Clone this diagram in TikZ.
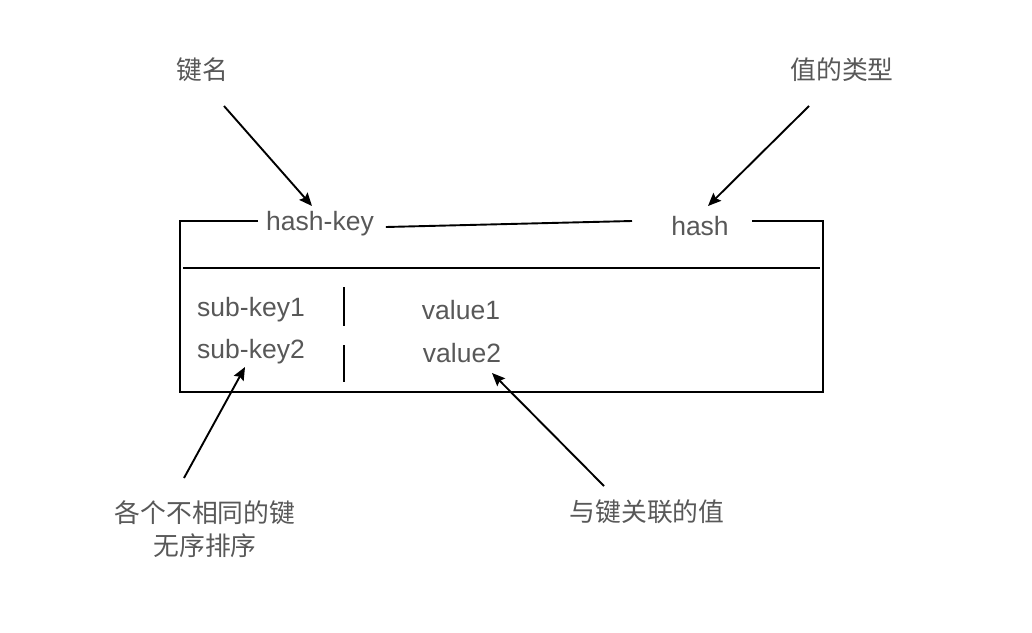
\documentclass[tikz,border=0pt]{standalone}
\usepackage{fontspec}
\setmainfont{Liberation Sans}
\newfontfamily\cjk{Noto Sans CJK SC}
\usetikzlibrary{arrows.meta}
\definecolor{txtgray}{RGB}{88,88,88}
\tikzset{
  lbl/.style={inner sep=0pt, text=txtgray, font=\fontsize{26.5}{32}\selectfont},
  zh/.style={lbl, font=\cjk\fontsize{25.8}{33}\selectfont, align=center},
  edge/.style={line width=1.9pt},
  pointer/.style={line width=1.9pt, -{Stealth[length=13pt,width=11pt,inset=2pt]}},
}
\begin{document}
\begin{tikzpicture}[x=1pt,y=-1pt]
\useasboundingbox (0,0) rectangle (1032,632);
\node[lbl] (hkey) at (320,224){hash-key};
\node[lbl] (htype) at (700,226){hash};
\node[lbl] (sk1) at (251,310){sub-key1};
\node[lbl] (sk2) at (251,352){sub-key2};
\node[lbl] (v1) at (461,310){value1};
\node[lbl] (v2) at (462,353){value2};
\node[zh] (keyname) at (202,70){键名};
\node[zh] (valtype) at (842,70){值的类型};
\node[zh] (distinct) at (205,529){各个不相同的键\\无序排序};
\node[zh] (assoc) at (647,512){与键关联的值};
\coordinate (tl) at (180,221);
\coordinate (tlgap) at (258,221);
\coordinate (midend) at (632,221);
\coordinate (trgap) at (752,221);
\coordinate (tr) at (823,221);
\coordinate (bl) at (180,392);
\coordinate (br) at (823,392);
\coordinate (divl) at (183,268);
\coordinate (divr) at (820,268);
\coordinate (bar1t) at (344,287);
\coordinate (bar1b) at (344,326);
\coordinate (bar2t) at (344,345);
\coordinate (bar2b) at (344,382);
\coordinate (p1s) at (224,106);
\coordinate (p1e) at (312,206);
\coordinate (p2s) at (809,106);
\coordinate (p2e) at (708,206);
\coordinate (p3s) at (184,478);
\coordinate (p3e) at (245,367);
\coordinate (p4s) at (604,486);
\coordinate (p4e) at (492,373);
\draw[edge](tlgap) -- (tl) -- (bl) -- (br) -- (tr) -- (trgap);
\draw[edge]([xshift=12pt,yshift=-3pt]hkey.east) -- (midend);
\draw[edge](divl) -- (divr);
\draw[edge](bar1t) -- (bar1b);
\draw[edge](bar2t) -- (bar2b);
\draw[pointer](p1s) -- (p1e);
\draw[pointer](p2s) -- (p2e);
\draw[pointer](p3s) -- (p3e);
\draw[pointer](p4s) -- (p4e);
\end{tikzpicture}
\end{document}
